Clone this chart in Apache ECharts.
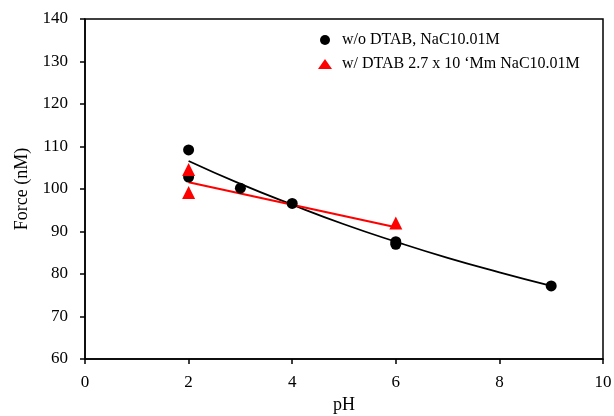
<!DOCTYPE html>
<html><head><meta charset="utf-8">
<script src="https://cdn.jsdelivr.net/npm/echarts@6/dist/echarts.min.js"></script>
<style>html,body{margin:0;padding:0;background:#fff}#c{width:614px;height:416px}</style>
</head><body><div id="c"></div>
<script>
var xTicks = [0, 2, 4, 6, 8, 10];
var yTicks = [60, 70, 80, 90, 100, 110, 120, 130, 140];
var seriesNames = ['w/o DTAB, NaC10.01M', 'w/ DTAB 2.7 x 10 \u2018Mm NaC10.01M'];
var noDtabX = [2, 2, 3, 4, 6, 6, 9];
var noDtabY = [109.2, 102.8, 100.2, 96.6, 87.6, 87.0, 77.2];
var dtabX = [2, 2, 6];
var dtabY = [104.6, 99.2, 92.0];
var fitNoX = [2, 3, 4, 5, 6, 7, 8, 9];
var fitNoY = [106.6, 101.2, 96.3, 91.7, 87.6, 83.8, 80.4, 77.2];
var fitDX = [2, 6];
var fitDY = [101.6, 91.0];

function zip(a, b) { return a.map(function (v, i) { return [v, b[i]]; }); }
var font = '"Liberation Serif", "DejaVu Serif", serif';
var chart = echarts.init(document.getElementById('c'));
chart.setOption({
  animation: false,
  textStyle: { fontFamily: font },
  grid: { left: 85, right: 11, top: 19, bottom: 57, show: true, borderColor: '#000', borderWidth: 1.5,
    containLabel: false, outerBoundsMode: 'none' },
  legend: {
    orient: 'vertical', left: 313, top: 27, itemGap: 8, itemWidth: 14, itemHeight: 10,
    data: [{ name: seriesNames[0], icon: 'circle' }, { name: seriesNames[1], icon: 'triangle' }],
    textStyle: { fontFamily: font, fontSize: 16, color: '#000', padding: [0, 0, 0, 5] }
  },
  xAxis: {
    type: 'value', min: 0, max: 10, interval: 2,
    name: 'pH', nameLocation: 'middle', nameGap: 37,
    nameTextStyle: { fontFamily: font, fontSize: 18, color: '#000' },
    axisLine: { lineStyle: { color: '#000', width: 1.5 } },
    axisTick: { show: true, inside: false, length: 5, lineStyle: { color: '#000', width: 1.5 } },
    axisLabel: { fontFamily: font, fontSize: 17, color: '#000', margin: 15 },
    splitLine: { show: false }
  },
  yAxis: {
    type: 'value', min: 60, max: 140, interval: 10,
    name: 'Force (nM)', nameLocation: 'middle', nameGap: 53,
    nameTextStyle: { fontFamily: font, fontSize: 18, color: '#000' },
    axisLine: { lineStyle: { color: '#000', width: 1.5 } },
    axisTick: { show: true, inside: false, length: 5, lineStyle: { color: '#000', width: 1.5 } },
    axisLabel: { fontFamily: font, fontSize: 17, color: '#000', margin: 17 },
    splitLine: { show: false }
  },
  series: [
    { name: 'fit1', type: 'line', data: zip(fitNoX, fitNoY), smooth: true, showSymbol: false,
      lineStyle: { color: '#000', width: 1.8 }, z: 2 },
    { name: 'fit2', type: 'line', data: zip(fitDX, fitDY), showSymbol: false,
      lineStyle: { color: '#f00', width: 2.2 }, z: 2 },
    { name: seriesNames[0], type: 'scatter', data: zip(noDtabX, noDtabY), symbol: 'circle', symbolSize: 11,
      itemStyle: { color: '#000', opacity: 1 }, z: 3 },
    { name: seriesNames[1], type: 'scatter', data: zip(dtabX, dtabY), symbol: 'triangle', symbolSize: 13,
      itemStyle: { color: '#f00', opacity: 1 }, z: 3 }
  ]
});
</script></body></html>
